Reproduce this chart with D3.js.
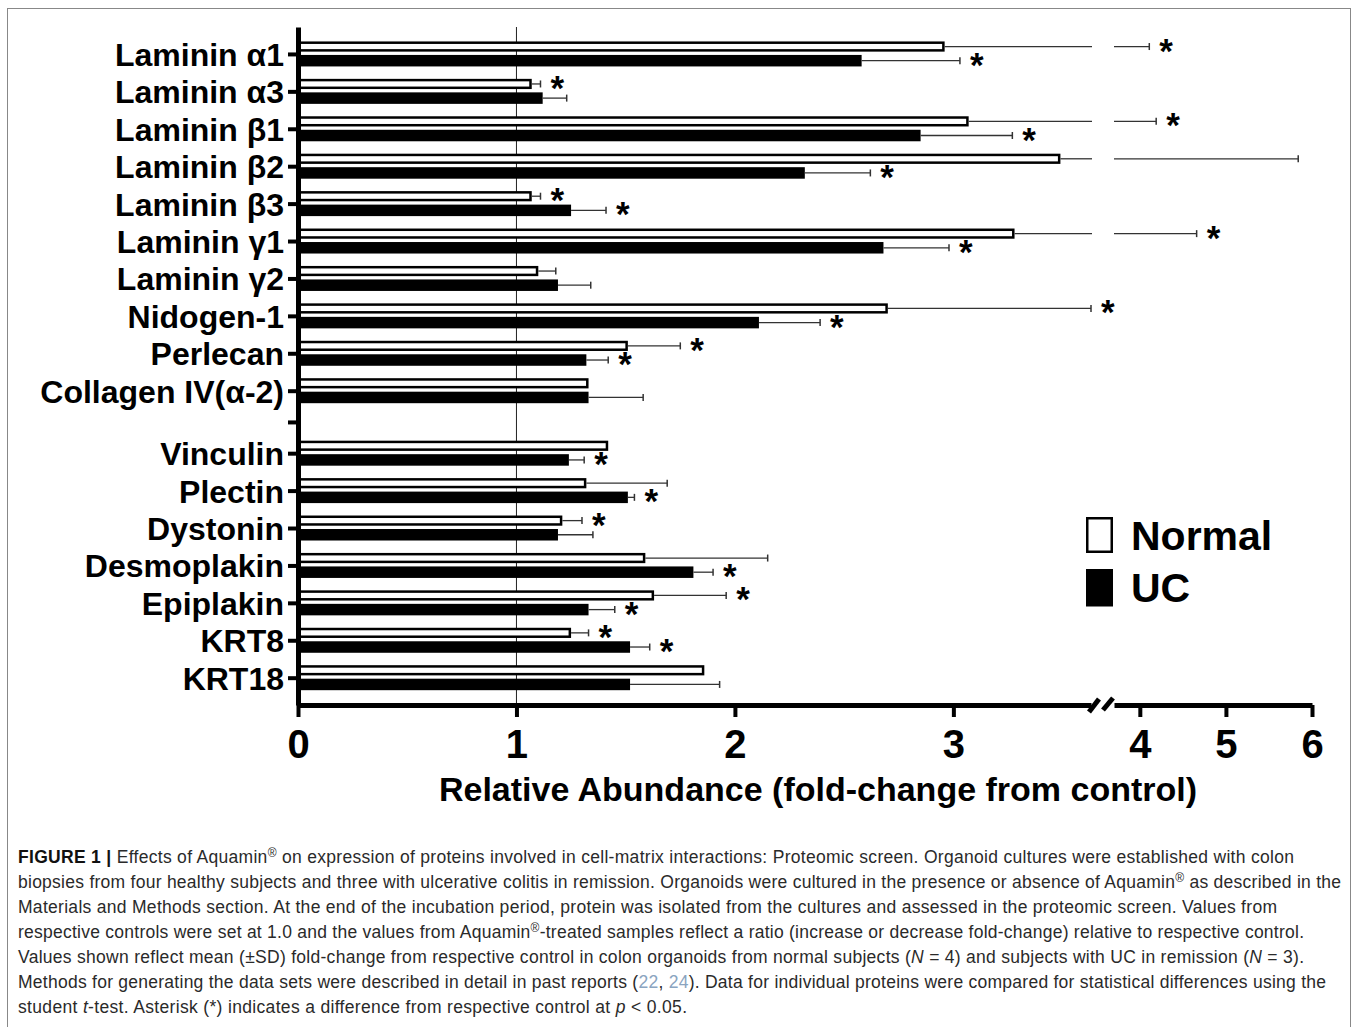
<!DOCTYPE html>
<html>
<head>
<meta charset="utf-8">
<script src="https://cdn.jsdelivr.net/npm/d3@7"></script>
<style>
  body { margin: 0; background: #fff; }
  svg { display: block; }
  text { font-family: "Liberation Sans", Arial, sans-serif; }
</style>
</head>
<body>
<svg id="chart" width="1357" height="1027"></svg>
<script>
// proteins, top to bottom; group 2 sits below a small gap
const proteins = ['Laminin α1', 'Laminin α3', 'Laminin β1', 'Laminin β2',
  'Laminin β3', 'Laminin γ1', 'Laminin γ2', 'Nidogen-1', 'Perlecan',
  'Collagen IV(α-2)', 'Vinculin', 'Plectin', 'Dystonin', 'Desmoplakin',
  'Epiplakin', 'KRT8', 'KRT18'];
const proteinGroup = [1, 1, 1, 1, 1, 1, 1, 1, 1, 1, 2, 2, 2, 2, 2, 2, 2];

// mean fold-change and SD
const normalMean = [2.96, 1.07, 3.07, 3.49, 1.07, 3.28, 1.10, 2.70, 1.51,
  1.33, 1.42, 1.32, 1.21, 1.59, 1.63, 1.25, 1.86];
const normalSD = [1.15, 0.04, 1.12, 2.35, 0.04, 1.38, 0.08, 0.93, 0.24,
  0, 0, 0.37, 0.09, 0.56, 0.33, 0.08, 0];
const normalSig = [1, 1, 1, 0, 1, 1, 0, 1, 1, 0, 0, 0, 1, 0, 1, 1, 0];

const ucMean = [2.58, 1.12, 2.85, 2.32, 1.25, 2.68, 1.19, 2.11, 1.32,
  1.33, 1.24, 1.51, 1.19, 1.81, 1.33, 1.52, 1.52];
const ucSD = [0.45, 0.11, 0.42, 0.30, 0.16, 0.30, 0.15, 0.28, 0.10,
  0.25, 0.07, 0.03, 0.16, 0.09, 0.12, 0.09, 0.41];
const ucSig = [1, 0, 1, 1, 1, 1, 0, 1, 1, 0, 1, 1, 0, 1, 1, 1, 0];

const lowTicks = [0, 1, 2, 3];
const highTicks = [4, 5, 6];
const seriesNames = ['Normal', 'UC'];

const groupGap = 0.67;
const breakLo = 3.63, breakHi = 3.7;

const svg = d3.select('#chart');

// figure frame
svg.append('rect')
  .attr('x', 7.5).attr('y', 8.5)
  .attr('width', 1343).attr('height', 1040)
  .attr('fill', 'none').attr('stroke', '#888').attr('stroke-width', 1);

// broken x axis: two linear pieces
const xLow = d3.scaleLinear().domain([0, breakLo]).range([298, 1091]);
const xHigh = d3.scaleLinear().domain([breakHi, 6]).range([1114, 1312]);
const x = function(v) {
  return v <= breakLo + 1e-6 ? xLow(v) : xHigh(Math.max(v, breakHi));
};

// slot position of each protein
const slot = proteins.map(function(p, i) {
  return proteinGroup[i] === 1 ? i : i + groupGap;
});
const gapSlot = 9 + (1 + groupGap) / 2;
const y = d3.scaleLinear().domain([-0.72, 17.4]).range([27, 705]);

// reference line at 1.0
svg.append('line')
  .attr('x1', xLow(1)).attr('x2', xLow(1))
  .attr('y1', y(-0.72)).attr('y2', y(17.4))
  .attr('stroke', '#222').attr('stroke-width', 1);

const rows = proteins.map(function(p, i) {
  return {name: p, c: y(slot[i]),
    series: [
      {key: 'Normal', mean: normalMean[i], sd: normalSD[i], sig: normalSig[i],
        top: -12.5, h: 10.2},
      {key: 'UC', mean: ucMean[i], sd: ucSD[i], sig: ucSig[i],
        top: 1, h: 11.5}
    ]};
});

const bars = svg.append('g');
rows.forEach(function(r) {
  r.series.forEach(function(s) {
    if (s.key === 'Normal') {
      bars.append('rect')
        .attr('x', x(0))
        .attr('y', r.c + s.top + 1.25)
        .attr('width', x(s.mean) - x(0) - 1.25)
        .attr('height', s.h - 2.5)
        .attr('fill', '#fff').attr('stroke', '#000').attr('stroke-width', 2.5);
    } else {
      bars.append('rect')
        .attr('x', x(0))
        .attr('y', r.c + s.top)
        .attr('width', x(s.mean) - x(0))
        .attr('height', s.h)
        .attr('fill', '#000');
    }
    const cy = r.c + s.top + s.h / 2;
    const end = s.mean + s.sd;
    if (s.sd > 0) {
      if (end > breakLo + 1e-6) {
        bars.append('line')
          .attr('x1', x(s.mean)).attr('x2', xLow(breakLo) + 1)
          .attr('y1', cy).attr('y2', cy)
          .attr('stroke', '#333').attr('stroke-width', 1.3);
        bars.append('line')
          .attr('x1', xHigh(breakHi)).attr('x2', x(end))
          .attr('y1', cy).attr('y2', cy)
          .attr('stroke', '#333').attr('stroke-width', 1.3);
      } else {
        bars.append('line')
          .attr('x1', x(s.mean)).attr('x2', x(end))
          .attr('y1', cy).attr('y2', cy)
          .attr('stroke', '#333').attr('stroke-width', 1.3);
      }
      bars.append('line')
        .attr('x1', x(end)).attr('x2', x(end))
        .attr('y1', cy - 3.5).attr('y2', cy + 3.5)
        .attr('stroke', '#333').attr('stroke-width', 1.5);
    }
    if (s.sig) {
      bars.append('text')
        .attr('x', x(end) + 10)
        .attr('y', cy + 16)
        .attr('font-size', 35).attr('font-weight', 'bold')
        .text('*');
    }
  });
});

// y axis with category labels
const yAxis = d3.axisLeft(y)
  .tickValues(slot.concat([gapSlot]))
  .tickFormat(function(d) {
    const i = slot.indexOf(d);
    return i >= 0 ? proteins[i] : '';
  })
  .tickSize(10).tickSizeOuter(0).tickPadding(4);
const gy = svg.append('g').attr('transform', 'translate(298,0)').call(yAxis);
gy.select('.domain').attr('stroke', '#000').attr('stroke-width', 5);
gy.selectAll('.tick line').attr('stroke', '#000').attr('stroke-width', 4);
gy.selectAll('.tick text')
  .attr('fill', '#000')
  .attr('dy', '0.36em')
  .style('font-size', '32px').style('font-weight', 'bold')
  .style('font-family', '"Liberation Sans", Arial, sans-serif');

// x axis, two pieces around the break
function styleX(g) {
  g.select('.domain').attr('stroke', '#000').attr('stroke-width', 5);
  g.selectAll('.tick line').attr('stroke', '#000').attr('stroke-width', 4);
  g.selectAll('.tick text')
    .attr('fill', '#000')
    .style('font-size', '40px').style('font-weight', 'bold')
    .style('font-family', '"Liberation Sans", Arial, sans-serif');
}
svg.append('g').attr('transform', 'translate(0,705)')
  .call(d3.axisBottom(xLow).tickValues(lowTicks).tickFormat(d3.format('d'))
    .tickSize(12).tickSizeOuter(0).tickPadding(13))
  .call(styleX);
svg.append('g').attr('transform', 'translate(0,705)')
  .call(d3.axisBottom(xHigh).tickValues(highTicks).tickFormat(d3.format('d'))
    .tickSize(12).tickSizeOuter(0).tickPadding(13))
  .call(styleX);

// break marks
[[1089, 712, 1099, 699], [1103, 710, 1113, 698]].forEach(function(m) {
  svg.append('line')
    .attr('x1', m[0]).attr('y1', m[1]).attr('x2', m[2]).attr('y2', m[3])
    .attr('stroke', '#000').attr('stroke-width', 5);
});

svg.append('text')
  .attr('x', 818).attr('y', 801)
  .attr('text-anchor', 'middle')
  .attr('font-size', 34).attr('font-weight', 'bold')
  .text('Relative Abundance (fold-change from control)');

// legend
const legend = svg.append('g');
seriesNames.forEach(function(name, i) {
  const ly = 517 + i * 52;
  if (i === 0) {
    legend.append('rect')
      .attr('x', 1087.25).attr('y', ly + 1.25).attr('width', 24.5).attr('height', 33.5)
      .attr('fill', '#fff').attr('stroke', '#000').attr('stroke-width', 2.5);
  } else {
    legend.append('rect')
      .attr('x', 1086).attr('y', ly).attr('width', 27).attr('height', 37.5)
      .attr('fill', '#000');
  }
  legend.append('text')
    .attr('x', 1131).attr('y', ly + 33)
    .attr('font-size', 41).attr('font-weight', 'bold')
    .text(name);
});

// caption
const captionLines = [
  [{t: 'FIGURE 1 | ', b: 1}, {t: 'Effects of Aquamin'}, {t: '®', sup: 1},
    {t: ' on expression of proteins involved in cell-matrix interactions: Proteomic screen. Organoid cultures were established with colon'}],
  [{t: 'biopsies from four healthy subjects and three with ulcerative colitis in remission. Organoids were cultured in the presence or absence of Aquamin'},
    {t: '®', sup: 1}, {t: ' as described in the'}],
  [{t: 'Materials and Methods section. At the end of the incubation period, protein was isolated from the cultures and assessed in the proteomic screen. Values from'}],
  [{t: 'respective controls were set at 1.0 and the values from Aquamin'}, {t: '®', sup: 1},
    {t: '-treated samples reflect a ratio (increase or decrease fold-change) relative to respective control.'}],
  [{t: 'Values shown reflect mean (±SD) fold-change from respective control in colon organoids from normal subjects ('},
    {t: 'N', i: 1}, {t: ' = 4) and subjects with UC in remission ('}, {t: 'N', i: 1}, {t: ' = 3).'}],
  [{t: 'Methods for generating the data sets were described in detail in past reports ('},
    {t: '22', ref: 1}, {t: ', '}, {t: '24', ref: 1},
    {t: '). Data for individual proteins were compared for statistical differences using the'}],
  [{t: 'student '}, {t: 't', i: 1}, {t: '-test. Asterisk (*) indicates a difference from respective control at '},
    {t: 'p', i: 1}, {t: ' < 0.05.'}]
];
const captionEnds = [1294, 1341, 1277, 1304, 1304, 1326, 687];

captionLines.forEach(function(parts, li) {
  const t = svg.append('text')
    .attr('x', 18).attr('y', 863 + li * 25)
    .attr('font-size', 17.5).attr('fill', '#2a2a2a')
    .attr('textLength', captionEnds[li] - 18)
    .attr('lengthAdjust', 'spacing');
  parts.forEach(function(p, pi) {
    const ts = t.append('tspan').text(p.t);
    if (p.b) ts.attr('font-weight', 'bold').attr('fill', '#111');
    if (p.i) ts.attr('font-style', 'italic');
    if (p.ref) ts.attr('fill', '#8aa4c0');
    if (p.sup) ts.attr('font-size', 12).attr('dy', -6);
    else if (pi > 0 && parts[pi - 1].sup) ts.attr('dy', 6);
  });
});
</script>
</body>
</html>
